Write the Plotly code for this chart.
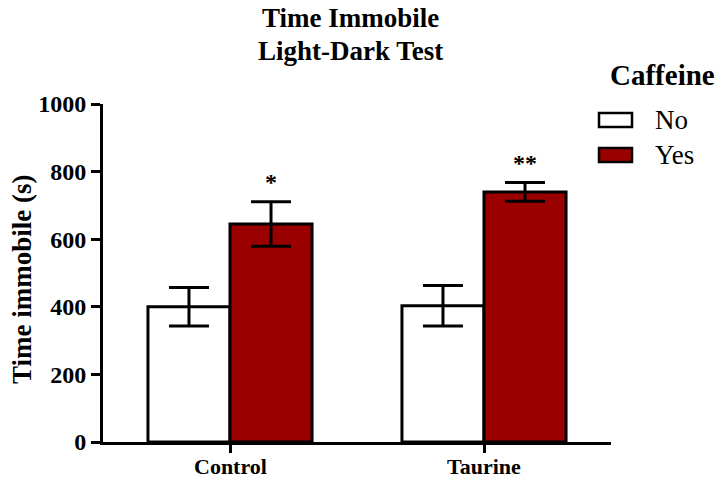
import plotly.graph_objects as go

categories = ["Control", "Taurine"]
no_values = [400, 403]
no_errors = [57, 60]
yes_values = [645, 740]
yes_errors = [66, 28]
sig_labels = ["*", "**"]
sig_y = [768, 825]
y_ticks = [0, 200, 400, 600, 800, 1000]
title_lines = ["Time Immobile", "Light-Dark Test"]

FONT = "Liberation Serif, Times New Roman, serif"
RED = "#9b0000"

# plot area in pixels (for placing paper-referenced items)
L, R, T, B = 103, 611, 104, 442
def px(x):
    return (x - L) / (R - L)
def py(y):
    return (B - y) / (B - T)

fig = go.Figure()
fig.add_trace(go.Bar(
    x=categories, y=no_values, name="No",
    marker=dict(color="white", line=dict(color="black", width=3)),
    error_y=dict(type="data", array=no_errors, color="black", thickness=3, width=20),
))
fig.add_trace(go.Bar(
    x=categories, y=yes_values, name="Yes",
    marker=dict(color=RED, line=dict(color="black", width=3)),
    error_y=dict(type="data", array=yes_errors, color="black", thickness=3, width=20),
))

for c, s, yv in zip(categories, sig_labels, sig_y):
    fig.add_annotation(x=c, y=yv, xref="x", yref="y", text=s, showarrow=False,
                       xshift=41, font=dict(family=FONT, size=24, color="black", weight="bold"))

# category labels (placed just under the axis)
for c in categories:
    fig.add_annotation(x=c, y=py(466), xref="x", yref="paper", text=c, showarrow=False,
                       xanchor="center", yanchor="middle",
                       font=dict(family=FONT, size=22, color="black", weight="bold"))

# title, two lines
for i, line in enumerate(title_lines):
    fig.add_annotation(x=px(350), y=py(18 + 33 * i), xref="paper", yref="paper",
                       text=line, showarrow=False, xanchor="center", yanchor="middle",
                       font=dict(family=FONT, size=27, color="black", weight="bold"))

fig.add_annotation(x=px(22), y=py(280), xref="paper", yref="paper",
                   text="Time immobile (s)", showarrow=False, textangle=-90,
                   xanchor="center", yanchor="middle",
                   font=dict(family=FONT, size=27, color="black", weight="bold"))

fig.add_annotation(x=px(662), y=py(75), xref="paper", yref="paper",
                   text="Caffeine", showarrow=False, xanchor="center", yanchor="middle",
                   font=dict(family=FONT, size=29, color="black", weight="bold"))
for i, (lab, col) in enumerate([("No", "white"), ("Yes", RED)]):
    yc = 120 + 35 * i
    fig.add_shape(type="rect", xref="paper", yref="paper",
                  x0=px(599), x1=px(632), y0=py(yc - 7), y1=py(yc + 7),
                  fillcolor=col, line=dict(color="black", width=2.5))
    fig.add_annotation(x=px(653), y=py(yc), xref="paper", yref="paper",
                       text=lab, showarrow=False, xanchor="left", yanchor="middle",
                       font=dict(family=FONT, size=27, color="black"))

fig.update_layout(
    width=723, height=480,
    margin=dict(l=L, r=723 - R, t=T, b=480 - B, autoexpand=False),
    paper_bgcolor="white", plot_bgcolor="white",
    barmode="group", bargap=0.354, bargroupgap=0,
    showlegend=False,
    font=dict(family=FONT, color="black"),
)
fig.update_xaxes(
    range=[-0.5, 1.5], showgrid=False, zeroline=False,
    showline=True, linecolor="black", linewidth=3,
    ticks="outside", ticklen=8, tickwidth=3, tickcolor="black",
    showticklabels=False,
)
fig.update_yaxes(
    range=[0, 1000], tickvals=y_ticks, showgrid=False, zeroline=False,
    showline=True, linecolor="black", linewidth=3,
    ticks="outside", ticklen=9, tickwidth=3, tickcolor="black",
    tickfont=dict(family=FONT, size=24, color="black", weight="bold"),
)

fig.write_html("out.html", config={"displayModeBar": False},
               post_script="document.body.style.margin='0';")
